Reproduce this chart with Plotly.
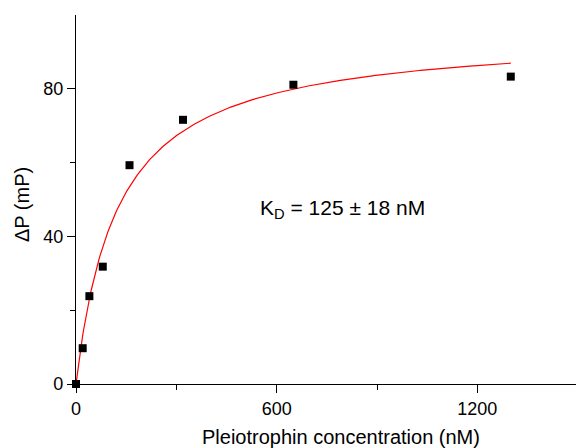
import numpy as np
import plotly.graph_objects as go

# Measured binding data
concentration_nM = [0, 20, 40, 80, 160, 320, 650, 1300]
delta_p_mP = [0.0, 9.7, 23.8, 31.8, 59.3, 71.6, 81.1, 83.3]

# One-site hyperbolic fit parameters
kd_nM = 125
bmax_mP = 95.3

x_fit = np.linspace(0, 1300, 400)
y_fit = bmax_mP * x_fit / (kd_nM + x_fit)

font_family = "Liberation Sans, Arial, sans-serif"

fig = go.Figure()
fig.add_trace(go.Scatter(
    x=x_fit, y=y_fit, mode="lines",
    line=dict(color="#ff0000", width=1.2),
    hoverinfo="skip", cliponaxis=False,
))
fig.add_trace(go.Scatter(
    x=concentration_nM, y=delta_p_mP, mode="markers",
    marker=dict(symbol="square", size=8, color="black", line=dict(width=0)),
    cliponaxis=False,
))

axis_common = dict(
    showgrid=False, zeroline=False, showline=True, linecolor="black", linewidth=1.3,
    ticks="outside", ticklen=8, tickwidth=1.3, tickcolor="black",
    tickfont=dict(family=font_family, size=18, color="black"),
    minor=dict(ticks="outside", ticklen=5, tickwidth=1.3, tickcolor="black"),
)

fig.update_xaxes(range=[0, 1495], tickvals=[0, 600, 1200],
                 minor_tickvals=[300, 900], **axis_common)
fig.update_yaxes(range=[0, 100], tickvals=[0, 40, 80],
                 minor_tickvals=[20, 60], **axis_common)

fig.add_annotation(
    text="Pleiotrophin concentration (nM)", xref="paper", yref="paper",
    x=0.53, y=-0.108, xanchor="center", yanchor="top", showarrow=False,
    font=dict(family=font_family, size=20, color="black"),
)
fig.add_annotation(
    text="\u0394P (mP)", xref="paper", yref="paper",
    x=-0.1, y=0.485, xanchor="center", yanchor="middle", textangle=-90,
    xshift=-4, showarrow=False,
    font=dict(family=font_family, size=20, color="black"),
)
fig.add_annotation(
    text="K<sub>D</sub> = 125 \u00b1 18 nM", xref="x", yref="y",
    x=545, y=47.5, xanchor="left", yanchor="middle", showarrow=False,
    font=dict(family=font_family, size=21, color="black"),
)

fig.update_layout(
    width=577, height=448, showlegend=False,
    margin=dict(l=76, r=1, t=15, b=64),
    paper_bgcolor="white", plot_bgcolor="white",
)

fig.write_html("out.html")
